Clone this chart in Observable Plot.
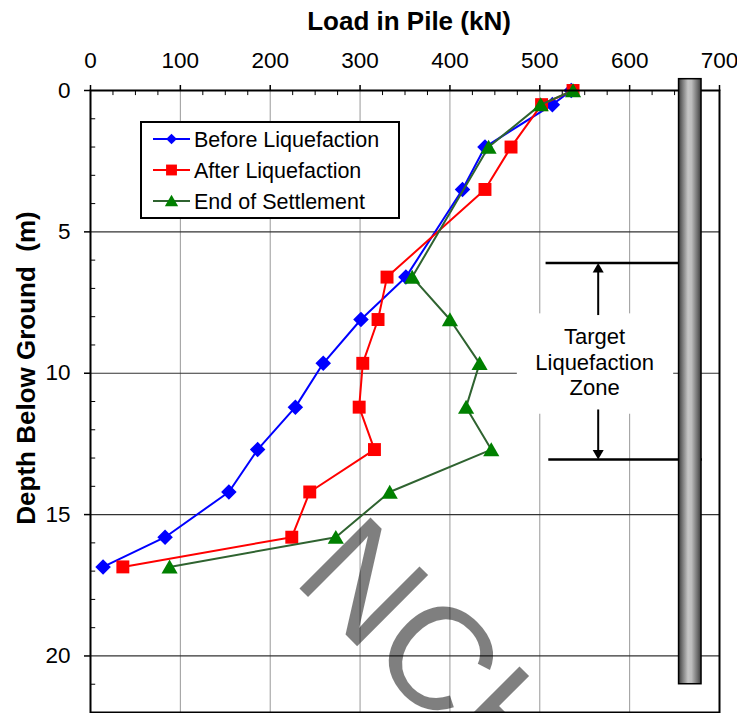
<!DOCTYPE html>
<html><head><meta charset="utf-8">
<script src="https://cdn.jsdelivr.net/npm/d3@7"></script>
<script src="https://cdn.jsdelivr.net/npm/@observablehq/plot@0.6"></script>
<style>
body{margin:0;background:#fff;}
#wrap{position:relative;width:737px;height:713px;overflow:hidden;background:#fff;}
</style></head><body><div id="wrap"></div>
<script>
// ---- data ----
const depths = [0, 0.5, 2.0, 3.5, 6.6, 8.1, 9.65, 11.2, 12.7, 14.2, 15.8, 16.85];
const beforeLoad = [535, 514, 439, 414, 351, 301, 259, 228, 186, 154, 83, 14];
const afterLoad  = [537, 502, 468, 439, 330, 320, 303, 299, 316, 244, 224, 36];
const settleDepths = [0, 0.5, 2.0, 6.6, 8.1, 9.65, 11.2, 12.7, 14.2, 15.8, 16.85];
const settleLoad   = [537, 501, 443, 358, 400, 433, 418, 446, 333, 273, 88];
const seriesNames = ["Before Liquefaction", "After Liquefaction", "End of Settlement"];
const xTicks = [0, 100, 200, 300, 400, 500, 600, 700];
const yTicks = [0, 5, 10, 15, 20];
const xGrid = [100, 200, 300, 400, 500, 600];
const yGrid = [5, 10, 15, 20];
const xMinor = [25,50,75,125,150,175,225,250,275,325,350,375,425,450,475,525,550,575,625,650,675];
const yMinor = [1,2,3,4,6,7,8,9,11,12,13,14,16,17,18,19,21];
const zoneTop = 6.1, zoneBottom = 13.05;
const zoneText = "Target\nLiquefaction\nZone";
const pileLoad = [655, 680];
const pileDepth = [-0.4, 21.0];

const blue = "#0000ff", red = "#ff0000", greenLine = "#2f6330", greenMark = "#008000";
const font = "'Liberation Sans', Arial, Helvetica, sans-serif";

const before = depths.map((d, i) => ({depth: d, load: beforeLoad[i]}));
const after = depths.map((d, i) => ({depth: d, load: afterLoad[i]}));
const settle = settleDepths.map((d, i) => ({depth: d, load: settleLoad[i]}));

const downTri = {draw(ctx, size) { const y = Math.sqrt(size / (3 * Math.sqrt(3))); ctx.moveTo(0, 2*y); ctx.lineTo(-Math.sqrt(3)*y, -y); ctx.lineTo(Math.sqrt(3)*y, -y); ctx.closePath(); }};

const chart = Plot.plot({
  width: 737, height: 713,
  marginLeft: 90, marginRight: 18, marginTop: 90, marginBottom: 1,
  style: {fontFamily: font, fontSize: "22px", color: "black", background: "white"},
  x: {domain: [0, 700]},
  y: {domain: [22, 0]},
  marks: [
    Plot.ruleX(xGrid, {stroke: "#999", strokeWidth: 1}),
    Plot.ruleY(yGrid, {stroke: "#333", strokeWidth: 1.2}),
    Plot.rect([{a: 475, b: 649, c: 7.9, d: 11.45}], {x1: "a", x2: "b", y1: "c", y2: "d", fill: "white"}),
    Plot.ruleX(xMinor, {y1: 0, y2: 0.18, stroke: "black", strokeWidth: 1}),
    Plot.ruleY(yMinor, {x1: 0, x2: 5.8, stroke: "black", strokeWidth: 1}),
    Plot.line(before, {x: "load", y: "depth", stroke: blue, strokeWidth: 2}),
    Plot.dot(before, {x: "load", y: "depth", symbol: "diamond2", r: 7, fill: blue, stroke: "none"}),
    Plot.line(after, {x: "load", y: "depth", stroke: red, strokeWidth: 2}),
    Plot.dot(after, {x: "load", y: "depth", symbol: "square", r: 7.3, fill: red, stroke: "none"}),
    Plot.line(settle, {x: "load", y: "depth", stroke: greenLine, strokeWidth: 2}),
    Plot.dot(settle, {x: "load", y: "depth", symbol: "triangle", r: 6, dy: 2, fill: greenMark, stroke: "none"}),
    Plot.frame({stroke: "black", strokeWidth: 2}),
    Plot.ruleY([zoneTop], {x1: 507, x2: 656, stroke: "black", strokeWidth: 2.6}),
    Plot.ruleY([zoneBottom], {x1: 510, x2: 681, stroke: "black", strokeWidth: 2.6}),
    Plot.ruleX([565], {y1: zoneTop + 0.3, y2: 7.96, stroke: "black", strokeWidth: 2}),
    Plot.ruleX([565], {y1: 11.3, y2: zoneBottom - 0.3, stroke: "black", strokeWidth: 2}),
    Plot.dot([{x: 565, y: zoneTop}], {x: "x", y: "y", symbol: "triangle", r: 4.1, dy: 6.3, fill: "black", stroke: "none"}),
    Plot.dot([{x: 565, y: zoneBottom}], {x: "x", y: "y", symbol: downTri, r: 4.1, dy: -6.3, fill: "black", stroke: "none"}),
    Plot.text([zoneText], {x: () => 561, y: () => 9.58, fontSize: 22, lineHeight: 1.17, fill: "black"}),
    Plot.rect([{a: pileLoad[0], b: pileLoad[1], c: pileDepth[0], d: pileDepth[1]}], {x1: "a", x2: "b", y1: "c", y2: "d", fill: "url(#pileGrad)", stroke: "black", strokeWidth: 1.5}),
    Plot.axisX({anchor: "top", ticks: xTicks, tickSize: 6, tickPadding: 17, fontSize: 22.5, label: null, stroke: "black", strokeWidth: 1.5}),
    Plot.axisY({anchor: "left", ticks: yTicks, tickSize: 6, tickPadding: 14, fontSize: 22.5, label: null, stroke: "black", strokeWidth: 1.5})
  ]
});

const svg = d3.select(chart);
const defs = svg.insert("defs", ":first-child");
const grad = defs.append("linearGradient").attr("id", "pileGrad").attr("x1", 0).attr("x2", 1).attr("y1", 0).attr("y2", 0);
[[0, "#3c3c3c"], [0.15, "#707070"], [0.42, "#c6c6c6"], [0.58, "#bcbcbc"], [0.85, "#6c6c6c"], [1, "#3a3a3a"]]
  .forEach(([o, c]) => grad.append("stop").attr("offset", o).attr("stop-color", c));

// axis titles
svg.append("text").attr("x", 409).attr("y", 30).attr("text-anchor", "middle")
  .attr("font-family", font).attr("font-weight", "bold").attr("font-size", 26).attr("fill", "black")
  .text("Load in Pile (kN)");
svg.append("text").attr("transform", "translate(35,368) rotate(-90)").attr("text-anchor", "middle")
  .attr("font-family", font).attr("font-weight", "bold").attr("font-size", 26).attr("fill", "black")
  .style("white-space", "pre").text("Depth Below Ground  (m)");

// legend
const leg = svg.append("g").attr("text-anchor", "start");
leg.append("rect").attr("x", 141).attr("y", 122).attr("width", 258).attr("height", 96)
  .attr("fill", "white").attr("stroke", "black").attr("stroke-width", 2);
const legItems = [
  {name: seriesNames[0], line: blue, mark: blue, sym: d3.symbolDiamond2, size: 73},
  {name: seriesNames[1], line: red, mark: red, sym: d3.symbolSquare, size: 118},
  {name: seriesNames[2], line: greenLine, mark: greenMark, sym: d3.symbolTriangle, size: 77}
];
legItems.forEach((it, i) => {
  const yy = 139 + i * 31;
  leg.append("line").attr("x1", 153).attr("x2", 190).attr("y1", yy).attr("y2", yy).attr("stroke", it.line).attr("stroke-width", 2);
  leg.append("path").attr("d", d3.symbol(it.sym, it.size)()).attr("transform", `translate(171.5,${yy + (i === 2 ? 1.5 : 0)})`).attr("fill", it.mark);
  leg.append("text").attr("x", 194).attr("y", yy + 7.8).attr("text-anchor", "start").attr("font-family", font).attr("font-size", 21.5).attr("fill", "black").text(it.name);
});

// watermark (partly outside the picture, as in the reference)
svg.append("text").attr("transform", "translate(291,580) rotate(45)").attr("text-anchor", "start")
  .attr("font-family", font).attr("font-size", 146).attr("fill", "black").attr("fill-opacity", 0.5)
  .text("NCH");

document.getElementById("wrap").appendChild(chart);
</script>
</body></html>
